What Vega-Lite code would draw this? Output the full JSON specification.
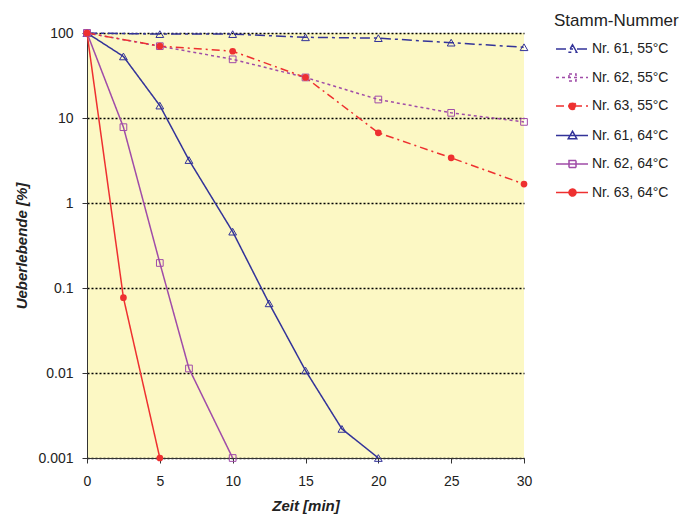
{
  "$schema": "https://vega.github.io/schema/vega-lite/v6.json",
  "width": 437,
  "height": 425,
  "autosize": "none",
  "padding": {"left": 87, "top": 33, "right": 176, "bottom": 57},
  "background": "white",
  "config": {
    "font": "Liberation Sans",
    "view": {"fill": "#FCF8C4", "stroke": null},
    "axis": {"labelFont": "Liberation Sans", "labelFontSize": 14, "labelColor": "#222", "titleFont": "Liberation Sans", "titleFontSize": 15, "titleFontWeight": "bold", "titleFontStyle": "italic", "titleColor": "#222", "domainColor": "#333", "tickColor": "#333", "domainWidth": 1, "tickWidth": 1, "labelFlush": false}
  },
  "data": {"values": [
    {"s": "Nr. 61, 55°C", "t": 0, "v": 100},
    {"s": "Nr. 61, 55°C", "t": 5, "v": 97},
    {"s": "Nr. 61, 55°C", "t": 10, "v": 97},
    {"s": "Nr. 61, 55°C", "t": 15, "v": 89},
    {"s": "Nr. 61, 55°C", "t": 20, "v": 87},
    {"s": "Nr. 61, 55°C", "t": 25, "v": 77},
    {"s": "Nr. 61, 55°C", "t": 30, "v": 68},
    {"s": "Nr. 62, 55°C", "t": 0, "v": 100},
    {"s": "Nr. 62, 55°C", "t": 5, "v": 70},
    {"s": "Nr. 62, 55°C", "t": 10, "v": 49},
    {"s": "Nr. 62, 55°C", "t": 15, "v": 30},
    {"s": "Nr. 62, 55°C", "t": 20, "v": 16.5},
    {"s": "Nr. 62, 55°C", "t": 25, "v": 11.5},
    {"s": "Nr. 62, 55°C", "t": 30, "v": 9},
    {"s": "Nr. 63, 55°C", "t": 0, "v": 100},
    {"s": "Nr. 63, 55°C", "t": 5, "v": 70},
    {"s": "Nr. 63, 55°C", "t": 10, "v": 61},
    {"s": "Nr. 63, 55°C", "t": 15, "v": 30},
    {"s": "Nr. 63, 55°C", "t": 20, "v": 6.7},
    {"s": "Nr. 63, 55°C", "t": 25, "v": 3.4},
    {"s": "Nr. 63, 55°C", "t": 30, "v": 1.67},
    {"s": "Nr. 61, 64°C", "t": 0, "v": 100},
    {"s": "Nr. 61, 64°C", "t": 2.5, "v": 53},
    {"s": "Nr. 61, 64°C", "t": 5, "v": 14},
    {"s": "Nr. 61, 64°C", "t": 7, "v": 3.2},
    {"s": "Nr. 61, 64°C", "t": 10, "v": 0.46},
    {"s": "Nr. 61, 64°C", "t": 12.5, "v": 0.066},
    {"s": "Nr. 61, 64°C", "t": 15, "v": 0.0107},
    {"s": "Nr. 61, 64°C", "t": 17.5, "v": 0.0022},
    {"s": "Nr. 61, 64°C", "t": 20, "v": 0.001},
    {"s": "Nr. 62, 64°C", "t": 0, "v": 100},
    {"s": "Nr. 62, 64°C", "t": 2.5, "v": 7.8},
    {"s": "Nr. 62, 64°C", "t": 5, "v": 0.197},
    {"s": "Nr. 62, 64°C", "t": 7, "v": 0.0113},
    {"s": "Nr. 62, 64°C", "t": 10, "v": 0.001},
    {"s": "Nr. 63, 64°C", "t": 0, "v": 100},
    {"s": "Nr. 63, 64°C", "t": 2.5, "v": 0.077},
    {"s": "Nr. 63, 64°C", "t": 5, "v": 0.001}
  ]},
  "encoding": {
    "x": {"field": "t", "type": "quantitative", "title": "Zeit [min]",
      "scale": {"domain": [0, 30], "nice": false},
      "axis": {"values": [0, 5, 10, 15, 20, 25, 30], "grid": false, "tickSize": 5, "labelPadding": 11, "titlePadding": 10}},
    "y": {"field": "v", "type": "quantitative", "title": "Ueberlebende [%]",
      "scale": {"type": "log", "domain": [0.001, 100], "nice": false},
      "axis": {"values": [0.001, 0.01, 0.1, 1, 10, 100], "labelExpr": "toString(datum.value)", "grid": true, "gridColor": "#000", "gridDash": [2, 2], "gridWidth": 1.5, "tickSize": 5, "labelPadding": 9, "titlePadding": 8}},
    "color": {"field": "s", "type": "nominal",
      "scale": {"domain": ["Nr. 61, 55°C", "Nr. 62, 55°C", "Nr. 63, 55°C", "Nr. 61, 64°C", "Nr. 62, 64°C", "Nr. 63, 64°C"],
        "range": ["#333399", "#A04CA8", "#EE3030", "#333399", "#A04CA8", "#EE3030"]}}
  },
  "layer": [
    {
      "mark": {"type": "line", "strokeWidth": 1.5},
      "encoding": {
        "strokeDash": {"field": "s", "type": "nominal", "legend": null,
          "scale": {"domain": ["Nr. 61, 55°C", "Nr. 62, 55°C", "Nr. 63, 55°C", "Nr. 61, 64°C", "Nr. 62, 64°C", "Nr. 63, 64°C"],
            "range": [[10, 4, 3, 4], [3, 3], [8, 4, 2, 4], [1, 0], [1, 0], [1, 0]]}},
        "color": {"field": "s", "type": "nominal",
          "legend": {
            "title": "Stamm-Nummer", "orient": "none", "legendX": 467, "legendY": -20, "padding": 0,
            "titleFont": "Liberation Sans", "titleFontSize": 17, "titleFontWeight": "normal", "titleColor": "#222", "titlePadding": 12,
            "labelFont": "Liberation Sans", "labelFontSize": 14, "labelColor": "#222", "labelOffset": 24,
            "symbolSize": 100, "rowPadding": 14.5,
            "encode": {"symbols": {"update": {
              "shape": {"signal": "indexof(datum.value, '61') >= 0 ? 'M-1,0H5.4M2.3,-0.85L3.15,0.65L1.45,0.65Z' : indexof(datum.value, '62') >= 0 ? 'M-1,0H5.4M1.6,-0.7H3V0.7H1.6Z' : 'M-1,0H5.4M1.6,0A0.7,0.7 0 1,0 3,0A0.7,0.7 0 1,0 1.6,0Z'"},
              "strokeDash": {"signal": "datum.value == 'Nr. 61, 55°C' ? [10, 4, 3, 4] : datum.value == 'Nr. 62, 55°C' ? [3, 3] : datum.value == 'Nr. 63, 55°C' ? [8, 4, 2, 4] : [1, 0]"},
              "fill": {"signal": "indexof(datum.value, '63') >= 0 ? '#EE3030' : 'transparent'"},
              "fillOpacity": {"signal": "indexof(datum.value, '63') >= 0 ? 1 : 0"},
              "stroke": {"scale": "color", "field": "value"},
              "strokeWidth": {"value": 1.5},
              "size": {"value": 100},
              "opacity": {"value": 1}
            }}}
          }}
      }
    },
    {
      "transform": [{"filter": "indexof(datum.s, '61') >= 0"}],
      "mark": {"type": "point", "shape": "triangle-up", "filled": false, "strokeWidth": 1, "opacity": 1, "size": 60},
      "encoding": {"color": {"field": "s", "type": "nominal", "legend": null}}
    },
    {
      "transform": [{"filter": "indexof(datum.s, '62') >= 0"}],
      "mark": {"type": "point", "shape": "square", "filled": false, "strokeWidth": 1, "opacity": 1, "size": 45},
      "encoding": {"color": {"field": "s", "type": "nominal", "legend": null}}
    },
    {
      "transform": [{"filter": "indexof(datum.s, '63') >= 0"}],
      "mark": {"type": "point", "shape": "circle", "filled": true, "opacity": 1, "size": 45},
      "encoding": {"color": {"field": "s", "type": "nominal", "legend": null}}
    }
  ]
}
